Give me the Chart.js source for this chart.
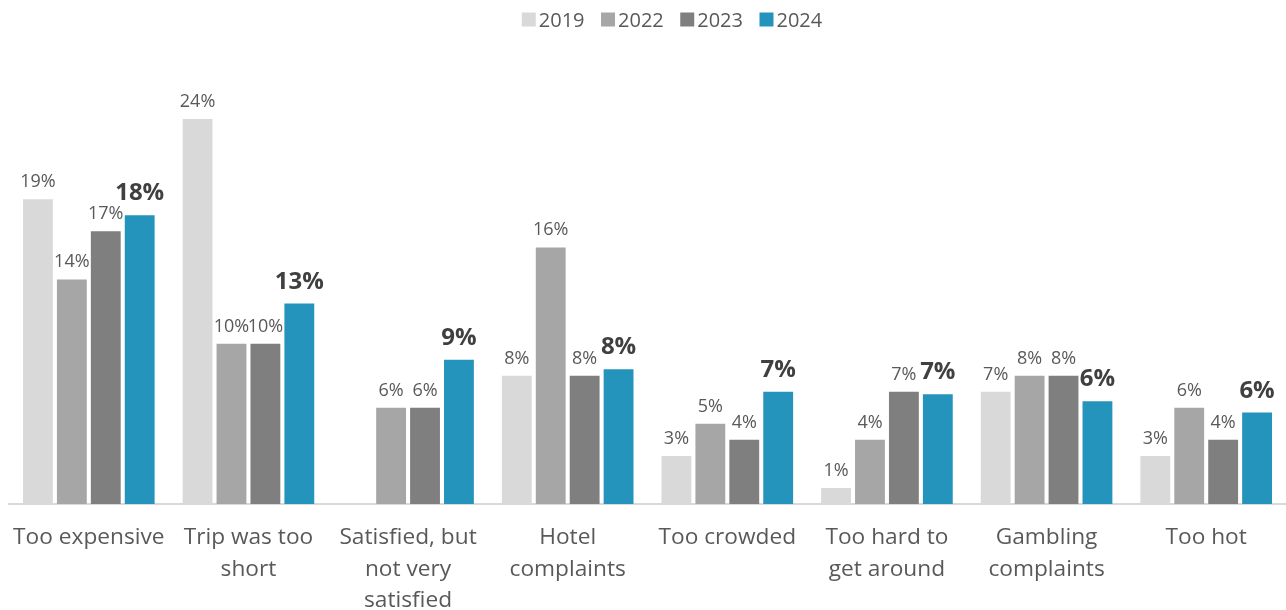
<!DOCTYPE html>
<html lang="en">
<head>
    <meta charset="UTF-8">
    <title>Trip dissatisfaction reasons</title>
    <style>
        body {
            margin: 0;
            padding: 0;
            background-color: #fff;
        }
        .wrap {
            width: 1286px;
            height: 610px;
            position: relative;
        }
    </style>
    <script src="https://cdn.jsdelivr.net/npm/chart.js"></script>
</head>
<body>
    <div class="wrap">
        <canvas id="reasonsChart"></canvas>
    </div>

    <script>
        const categories = [
            'Too expensive',
            ['Trip was too', 'short'],
            ['Satisfied, but', 'not very', 'satisfied'],
            ['Hotel', 'complaints'],
            'Too crowded',
            ['Too hard to', 'get around'],
            ['Gambling', 'complaints'],
            'Too hot'
        ];
        const years = ['2019', '2022', '2023', '2024'];
        const values2019 = [19, 24, null, 8, 3, 1, 7, 3];
        const values2022 = [14, 10, 6, 16, 5, 4, 8, 6];
        const values2023 = [17, 10, 6, 8, 4, 7, 8, 4];
        const values2024 = [18, 12.5, 9, 8.4, 7, 6.85, 6.4, 5.7];
        const colors = ['#d9d9d9', '#a6a6a6', '#7f7f7f', '#2494bc'];

        const FONT = '"Open Sans", Arial, sans-serif';

        // value labels above each bar, 2024 in bold
        const barLabels = {
            id: 'barLabels',
            afterDatasetsDraw(chart) {
                const ctx = chart.ctx;
                ctx.save();
                ctx.textAlign = 'center';
                ctx.textBaseline = 'alphabetic';
                chart.data.datasets.forEach((ds, i) => {
                    const meta = chart.getDatasetMeta(i);
                    const last = i === chart.data.datasets.length - 1;
                    ctx.font = last ? 'bold 24px ' + FONT : '18px ' + FONT;
                    ctx.fillStyle = last ? '#404040' : '#595959';
                    meta.data.forEach((bar, j) => {
                        const v = ds.data[j];
                        if (v === null) return;
                        ctx.fillText(Math.round(v) + '%', bar.x, bar.y - (last ? 15 : 12));
                    });
                });
                ctx.restore();
            }
        };

        // legend row at the top
        const topLegend = {
            id: 'topLegend',
            afterDraw(chart) {
                const ctx = chart.ctx;
                ctx.save();
                ctx.font = '20px ' + FONT;
                ctx.textBaseline = 'alphabetic';
                ctx.textAlign = 'left';
                const box = 14, gap = 3, spacing = 16.5;
                const widths = chart.data.datasets.map(ds => ctx.measureText(ds.label).width);
                const total = widths.reduce((a, w) => a + box + gap + w, 0) + spacing * (widths.length - 1);
                let x = 672 - total / 2;
                chart.data.datasets.forEach((ds, i) => {
                    ctx.fillStyle = ds.backgroundColor;
                    ctx.fillRect(x, 12.5, box, box);
                    ctx.fillStyle = '#595959';
                    ctx.fillText(ds.label, x + box + gap, 26.5);
                    x += box + gap + widths[i] + spacing;
                });
                ctx.restore();
            }
        };

        const allValues = [values2019, values2022, values2023, values2024];

        new Chart(document.getElementById('reasonsChart'), {
            type: 'bar',
            data: {
                labels: categories,
                datasets: years.map((y, i) => ({
                    label: y,
                    data: allValues[i],
                    backgroundColor: colors[i],
                    categoryPercentage: 0.85,
                    barPercentage: 0.88
                }))
            },
            options: {
                responsive: true,
                maintainAspectRatio: false,
                animation: false,
                layout: {
                    padding: { top: 71, left: 9, right: 0, bottom: 0 }
                },
                plugins: {
                    legend: { display: false },
                    tooltip: { enabled: false }
                },
                scales: {
                    x: {
                        grid: { display: false, drawTicks: false },
                        border: { display: true, color: '#d9d9d9', width: 2 },
                        ticks: {
                            autoSkip: false,
                            maxRotation: 0,
                            minRotation: 0,
                            padding: 18,
                            color: '#595959',
                            font: { family: FONT, size: 22.7, lineHeight: 1.39 }
                        },
                        afterFit(scale) {
                            scale.height = 106;
                            scale.paddingLeft = 0;
                            scale.paddingRight = 0;
                        }
                    },
                    y: {
                        display: false,
                        min: 0,
                        max: 27
                    }
                }
            },
            plugins: [barLabels, topLegend]
        });
    </script>
</body>
</html>
